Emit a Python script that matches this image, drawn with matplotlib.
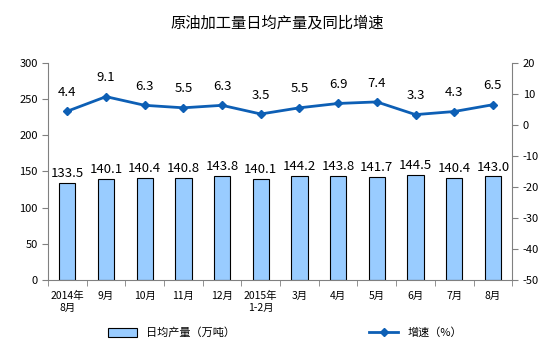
import matplotlib
matplotlib.use("Agg")
import matplotlib.pyplot as plt
import numpy as np

plt.rcParams['font.family'] = ['Noto Sans CJK SC', 'DejaVu Sans']
plt.rcParams['axes.unicode_minus'] = False

categories = ["2014年\n8月", "9月", "10月", "11月", "12月", "2015年\n1-2月",
              "3月", "4月", "5月", "6月", "7月", "8月"]
output = [133.5, 140.1, 140.4, 140.8, 143.8, 140.1, 144.2, 143.8, 141.7, 144.5, 140.4, 143.0]
growth = [4.4, 9.1, 6.3, 5.5, 6.3, 3.5, 5.5, 6.9, 7.4, 3.3, 4.3, 6.5]

fig = plt.figure(figsize=(5.54, 3.53), dpi=100)
ax = fig.add_axes([0.0866, 0.207, 0.838, 0.615])
ax2 = ax.twinx()

x = np.arange(len(categories))
bars = ax.bar(x, output, width=0.42, color='#99CCFF', edgecolor='black', linewidth=0.8,
              label='日均产量（万吨）', zorder=2)
for xi, v in zip(x, output):
    ax.text(xi, v + 4, f"{v:.1f}", ha='center', va='bottom', fontsize=9.5, color='black')

line, = ax2.plot(x, growth, color='#0D5FB5', linewidth=2, marker='D', markersize=4.5,
                 label='增速（%）', zorder=3)
for xi, v in zip(x, growth):
    ax2.text(xi, v + 4, f"{v:.1f}", ha='center', va='bottom', fontsize=9.5, color='black')

ax.set_xlim(-0.5, len(categories) - 0.5)
ax.set_ylim(0, 300)
ax.set_yticks(np.arange(0, 301, 50))
ax2.set_ylim(-50, 20)
ax2.set_yticks(np.arange(-50, 21, 10))

ax.set_xticks(x)
ax.set_xticklabels(categories, fontsize=7.5)
ax.tick_params(axis='x', length=0, pad=8)
ax.set_xticks(np.arange(-0.5, len(categories), 1), minor=True)
ax.tick_params(axis='x', which='minor', length=4, color='#808080', direction='out')

ax.tick_params(axis='y', labelsize=8, length=4, color='#808080', direction='out')
ax2.tick_params(axis='y', labelsize=8, length=4, color='#808080', direction='out')

for a in (ax, ax2):
    a.spines['top'].set_visible(False)
    for s in ('left', 'right', 'bottom'):
        a.spines[s].set_color('#808080')
ax.spines['right'].set_visible(False)
ax2.spines['left'].set_visible(False)
ax2.spines['bottom'].set_visible(False)

fig.text(0.5, 0.935, "原油加工量日均产量及同比增速", ha='center', va='center', fontsize=11)

fig.legend(handles=[bars], loc='center', bbox_to_anchor=(0.31, 0.057), frameon=False,
           fontsize=8, handlelength=2.6, handleheight=0.9)
fig.legend(handles=[line], loc='center', bbox_to_anchor=(0.75, 0.057), frameon=False,
           fontsize=8, handlelength=2.6)

fig.savefig("out.png", dpi=100)
